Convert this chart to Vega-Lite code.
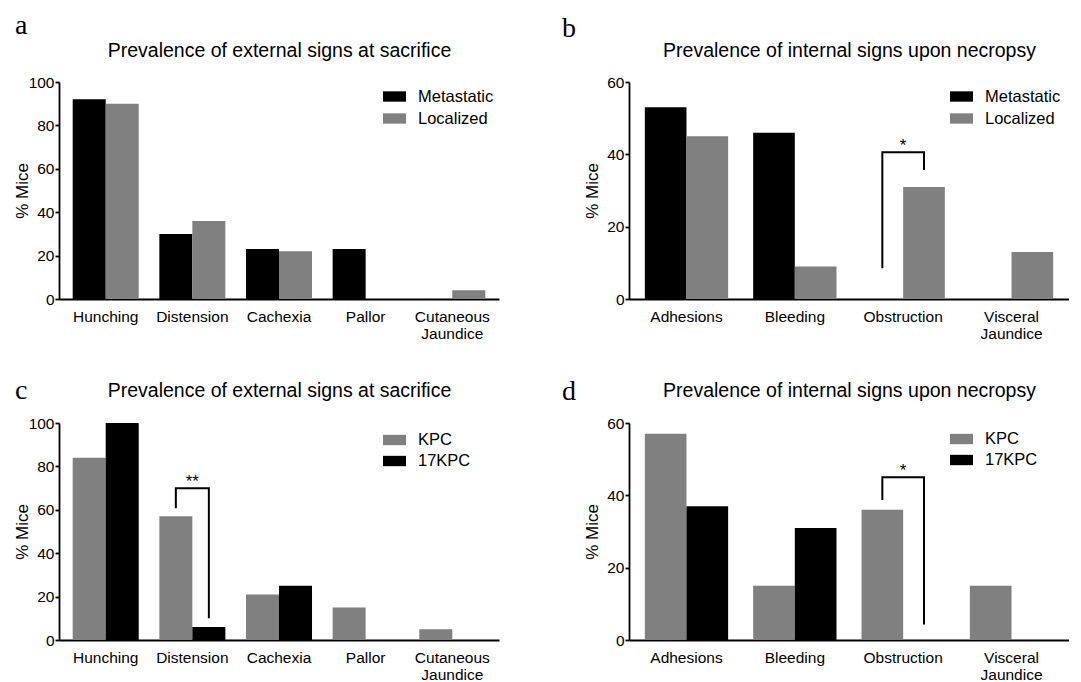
{
  "$schema": "https://vega.github.io/schema/vega-lite/v6.json",
  "background": "white",
  "padding": {"left": 13, "top": 12, "right": 0, "bottom": 0},
  "config": {
    "font": "Liberation Sans",
    "view": {"stroke": null},
    "axis": {"grid": false, "domainColor": "#000", "domainWidth": 1.8, "tickColor": "#000", "tickWidth": 1.8, "labelColor": "#000", "titleColor": "#000", "titleFontWeight": "normal", "labelFont": "Liberation Sans", "titleFont": "Liberation Sans"},
    "axisX": {"ticks": false, "labelAngle": 0, "labelFontSize": 15.5, "labelPadding": 10, "labelLineHeight": 17.5, "titleFontSize": 19.5, "titleBaseline": "alphabetic", "titleX": 220, "titleY": -243, "titleAnchor": "middle", "titleAlign": "center"},
    "axisY": {"tickSize": 4, "labelFontSize": 15.5, "labelPadding": 1, "titleFontSize": 17, "titleBaseline": "alphabetic"},
    "legend": {"labelFontSize": 16.5, "labelColor": "#000", "symbolType": "M-1,-0.45H1V0.45H-1Z", "symbolSize": 529, "symbolStrokeWidth": 0, "labelOffset": 12, "rowPadding": 2, "symbolOpacity": 1, "title": null},
    "title": {"fontSize": 28, "fontWeight": "normal", "color": "#000", "font": "Liberation Serif", "anchor": "start", "frame": "group", "baseline": "alphabetic", "offset": 8}
  },
  "columns": 2,
  "spacing": {"row": 124, "column": 130},
  "bounds": "flush",
  "resolve": {"scale": {"color": "independent", "x": "independent", "y": "independent", "xOffset": "independent"}, "legend": {"color": "independent"}},
  "concat": [
    {
      "width": 440, "height": 217,
      "title": {"text": "a", "dx": -44, "dy": 8},
      "layer": [
        {
          "data": {"values": [
            {"sign": "Hunching", "group": "Metastatic", "pct": 92},
            {"sign": "Hunching", "group": "Localized", "pct": 90},
            {"sign": "Distension", "group": "Metastatic", "pct": 30},
            {"sign": "Distension", "group": "Localized", "pct": 36},
            {"sign": "Cachexia", "group": "Metastatic", "pct": 23},
            {"sign": "Cachexia", "group": "Localized", "pct": 22},
            {"sign": "Pallor", "group": "Metastatic", "pct": 23},
            {"sign": "Pallor", "group": "Localized", "pct": 0},
            {"sign": "Cutaneous Jaundice", "group": "Metastatic", "pct": 0},
            {"sign": "Cutaneous Jaundice", "group": "Localized", "pct": 4}
          ]},
          "mark": {"type": "bar"},
          "encoding": {
            "x": {"field": "sign", "type": "nominal", "sort": null, "scale": {"domain": ["Hunching", "Distension", "Cachexia", "Pallor", "Cutaneous Jaundice"], "paddingInner": 0.238, "paddingOuter": 0.158}, "axis": {"title": "Prevalence of external signs at sacrifice", "titleY": -243, "labelExpr": "split(datum.label, ' ')"}},
            "xOffset": {"field": "group", "type": "nominal", "sort": null, "scale": {"domain": ["Metastatic", "Localized"]}},
            "y": {"field": "pct", "type": "quantitative", "scale": {"domain": [0, 100], "nice": false}, "axis": {"title": "% Mice", "values": [0, 20, 40, 60, 80, 100], "titleX": -32, "titleY": 108.5}},
            "color": {"field": "group", "type": "nominal", "scale": {"domain": ["Metastatic", "Localized"], "range": ["#000000", "#808080"]}, "legend": {"orient": "none", "legendX": 324, "legendY": 3}}
          }
        }
      ]
    },
    {
      "width": 440, "height": 217,
      "title": {"text": "b", "dx": -67, "dy": 11},
      "layer": [
        {
          "data": {"values": [
            {"sign": "Adhesions", "group": "Metastatic", "pct": 53},
            {"sign": "Adhesions", "group": "Localized", "pct": 45},
            {"sign": "Bleeding", "group": "Metastatic", "pct": 46},
            {"sign": "Bleeding", "group": "Localized", "pct": 9},
            {"sign": "Obstruction", "group": "Metastatic", "pct": 0},
            {"sign": "Obstruction", "group": "Localized", "pct": 31},
            {"sign": "Visceral Jaundice", "group": "Metastatic", "pct": 0},
            {"sign": "Visceral Jaundice", "group": "Localized", "pct": 13}
          ]},
          "mark": {"type": "bar"},
          "encoding": {
            "x": {"field": "sign", "type": "nominal", "sort": null, "scale": {"domain": ["Adhesions", "Bleeding", "Obstruction", "Visceral Jaundice"], "paddingInner": 0.231, "paddingOuter": 0.146}, "axis": {"title": "Prevalence of internal signs upon necropsy", "titleY": -243, "labelExpr": "split(datum.label, ' ')"}},
            "xOffset": {"field": "group", "type": "nominal", "sort": null, "scale": {"domain": ["Metastatic", "Localized"]}},
            "y": {"field": "pct", "type": "quantitative", "scale": {"domain": [0, 60], "nice": false}, "axis": {"title": "% Mice", "values": [0, 20, 40, 60], "titleX": -32, "titleY": 108.5}},
            "color": {"field": "group", "type": "nominal", "scale": {"domain": ["Metastatic", "Localized"], "range": ["#000000", "#808080"]}, "legend": {"orient": "none", "legendX": 321, "legendY": 3}}
          }
        },
        {
          "data": {"values": [
            {"sign": "Obstruction", "group": "Metastatic", "pct": 8.5, "k": 1},
            {"sign": "Obstruction", "group": "Metastatic", "pct": 40.6, "k": 2},
            {"sign": "Obstruction", "group": "Localized", "pct": 40.6, "k": 3},
            {"sign": "Obstruction", "group": "Localized", "pct": 35.7, "k": 4}
          ]},
          "mark": {"type": "line", "color": "#000", "strokeWidth": 2},
          "encoding": {
            "x": {"field": "sign", "type": "nominal", "sort": null},
            "xOffset": {"field": "group", "type": "nominal", "sort": null},
            "y": {"field": "pct", "type": "quantitative"},
            "order": {"field": "k", "type": "quantitative"}
          }
        },
        {
          "data": {"values": [{"sign": "Obstruction", "pct": 40.6, "label": "*"}]},
          "mark": {"type": "text", "fontSize": 17, "baseline": "alphabetic", "dy": -1, "color": "#000"},
          "encoding": {
            "x": {"field": "sign", "type": "nominal", "sort": null},
            "y": {"field": "pct", "type": "quantitative"},
            "text": {"field": "label"}
          }
        }
      ]
    },
    {
      "width": 440, "height": 217,
      "title": {"text": "c", "dx": -44, "dy": 33},
      "layer": [
        {
          "data": {"values": [
            {"sign": "Hunching", "group": "KPC", "pct": 84},
            {"sign": "Hunching", "group": "17KPC", "pct": 100},
            {"sign": "Distension", "group": "KPC", "pct": 57},
            {"sign": "Distension", "group": "17KPC", "pct": 6},
            {"sign": "Cachexia", "group": "KPC", "pct": 21},
            {"sign": "Cachexia", "group": "17KPC", "pct": 25},
            {"sign": "Pallor", "group": "KPC", "pct": 15},
            {"sign": "Pallor", "group": "17KPC", "pct": 0},
            {"sign": "Cutaneous Jaundice", "group": "KPC", "pct": 5},
            {"sign": "Cutaneous Jaundice", "group": "17KPC", "pct": 0}
          ]},
          "mark": {"type": "bar"},
          "encoding": {
            "x": {"field": "sign", "type": "nominal", "sort": null, "scale": {"domain": ["Hunching", "Distension", "Cachexia", "Pallor", "Cutaneous Jaundice"], "paddingInner": 0.238, "paddingOuter": 0.158}, "axis": {"title": "Prevalence of external signs at sacrifice", "titleY": -244, "labelExpr": "split(datum.label, ' ')"}},
            "xOffset": {"field": "group", "type": "nominal", "sort": null, "scale": {"domain": ["KPC", "17KPC"]}},
            "y": {"field": "pct", "type": "quantitative", "scale": {"domain": [0, 100], "nice": false}, "axis": {"title": "% Mice", "values": [0, 20, 40, 60, 80, 100], "titleX": -32, "titleY": 108.5}},
            "color": {"field": "group", "type": "nominal", "scale": {"domain": ["KPC", "17KPC"], "range": ["#808080", "#000000"]}, "legend": {"orient": "none", "legendX": 324, "legendY": 5.5, "rowPadding": 1}}
          }
        },
        {
          "data": {"values": [
            {"sign": "Distension", "group": "KPC", "pct": 60.7, "k": 1},
            {"sign": "Distension", "group": "KPC", "pct": 69.9, "k": 2},
            {"sign": "Distension", "group": "17KPC", "pct": 69.9, "k": 3},
            {"sign": "Distension", "group": "17KPC", "pct": 10, "k": 4}
          ]},
          "mark": {"type": "line", "color": "#000", "strokeWidth": 2},
          "encoding": {
            "x": {"field": "sign", "type": "nominal", "sort": null},
            "xOffset": {"field": "group", "type": "nominal", "sort": null},
            "y": {"field": "pct", "type": "quantitative"},
            "order": {"field": "k", "type": "quantitative"}
          }
        },
        {
          "data": {"values": [{"sign": "Distension", "pct": 69.9, "label": "**"}]},
          "mark": {"type": "text", "fontSize": 17, "baseline": "alphabetic", "dy": -1, "color": "#000"},
          "encoding": {
            "x": {"field": "sign", "type": "nominal", "sort": null},
            "y": {"field": "pct", "type": "quantitative"},
            "text": {"field": "label"}
          }
        }
      ]
    },
    {
      "width": 440, "height": 217,
      "title": {"text": "d", "dx": -67, "dy": 34},
      "layer": [
        {
          "data": {"values": [
            {"sign": "Adhesions", "group": "KPC", "pct": 57},
            {"sign": "Adhesions", "group": "17KPC", "pct": 37},
            {"sign": "Bleeding", "group": "KPC", "pct": 15},
            {"sign": "Bleeding", "group": "17KPC", "pct": 31},
            {"sign": "Obstruction", "group": "KPC", "pct": 36},
            {"sign": "Obstruction", "group": "17KPC", "pct": 0},
            {"sign": "Visceral Jaundice", "group": "KPC", "pct": 15},
            {"sign": "Visceral Jaundice", "group": "17KPC", "pct": 0}
          ]},
          "mark": {"type": "bar"},
          "encoding": {
            "x": {"field": "sign", "type": "nominal", "sort": null, "scale": {"domain": ["Adhesions", "Bleeding", "Obstruction", "Visceral Jaundice"], "paddingInner": 0.231, "paddingOuter": 0.146}, "axis": {"title": "Prevalence of internal signs upon necropsy", "titleY": -244, "labelExpr": "split(datum.label, ' ')"}},
            "xOffset": {"field": "group", "type": "nominal", "sort": null, "scale": {"domain": ["KPC", "17KPC"]}},
            "y": {"field": "pct", "type": "quantitative", "scale": {"domain": [0, 60], "nice": false}, "axis": {"title": "% Mice", "values": [0, 20, 40, 60], "titleX": -32, "titleY": 108.5}},
            "color": {"field": "group", "type": "nominal", "scale": {"domain": ["KPC", "17KPC"], "range": ["#808080", "#000000"]}, "legend": {"orient": "none", "legendX": 321, "legendY": 4.5, "rowPadding": 1}}
          }
        },
        {
          "data": {"values": [
            {"sign": "Obstruction", "group": "KPC", "pct": 38.7, "k": 1},
            {"sign": "Obstruction", "group": "KPC", "pct": 45, "k": 2},
            {"sign": "Obstruction", "group": "17KPC", "pct": 45, "k": 3},
            {"sign": "Obstruction", "group": "17KPC", "pct": 4.3, "k": 4}
          ]},
          "mark": {"type": "line", "color": "#000", "strokeWidth": 2},
          "encoding": {
            "x": {"field": "sign", "type": "nominal", "sort": null},
            "xOffset": {"field": "group", "type": "nominal", "sort": null},
            "y": {"field": "pct", "type": "quantitative"},
            "order": {"field": "k", "type": "quantitative"}
          }
        },
        {
          "data": {"values": [{"sign": "Obstruction", "pct": 45, "label": "*"}]},
          "mark": {"type": "text", "fontSize": 17, "baseline": "alphabetic", "dy": -1, "color": "#000"},
          "encoding": {
            "x": {"field": "sign", "type": "nominal", "sort": null},
            "y": {"field": "pct", "type": "quantitative"},
            "text": {"field": "label"}
          }
        }
      ]
    }
  ]
}
